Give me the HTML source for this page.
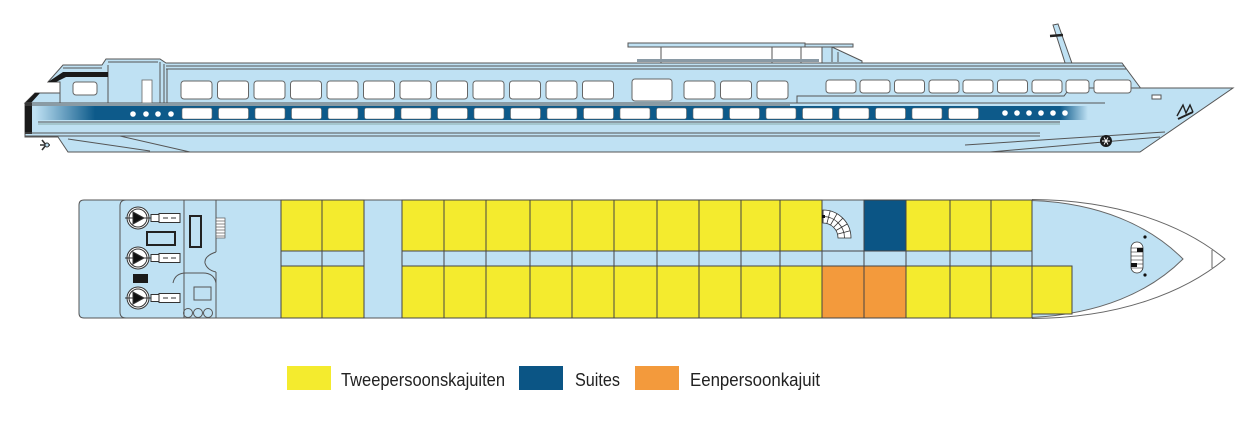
<!DOCTYPE html>
<html><head><meta charset="utf-8"><style>
html,body{margin:0;padding:0;background:#fff;}
svg{display:block;}
</style></head><body>
<svg width="1260" height="428" viewBox="0 0 1260 428" xmlns="http://www.w3.org/2000/svg">
<defs>
<linearGradient id="gl" x1="0" y1="0" x2="1" y2="0"><stop offset="0" stop-color="#bfe1f3"/><stop offset="1" stop-color="#0d5a8a"/></linearGradient>
<linearGradient id="gr" x1="0" y1="0" x2="1" y2="0"><stop offset="0" stop-color="#0d5a8a"/><stop offset="1" stop-color="#bfe1f3"/></linearGradient>
</defs>
<rect width="1260" height="428" fill="#fff"/>

<!-- ============ SIDE VIEW ============ -->
<g stroke="#555" stroke-width="1" fill="#bfe1f3">
<!-- mast -->
<polygon points="1053,25 1058,24 1074,69 1067,69"/>
<line x1="1050" y1="36" x2="1063" y2="35" stroke="#222" stroke-width="2.5"/>
<!-- canopy & wheelhouse -->
<rect x="628" y="43" width="177" height="4"/>
<rect x="805" y="44" width="48" height="3"/>
<polygon points="822,47 832,47 862,61 862,66 822,66"/>
<line x1="832" y1="47" x2="832" y2="62"/>
<line x1="838" y1="52" x2="838" y2="62"/>
<line x1="661" y1="47" x2="661" y2="69"/>
<line x1="772" y1="47" x2="772" y2="69"/>
<line x1="801" y1="47" x2="801" y2="69"/>
<rect x="637" y="59" width="182" height="3" fill="#8a9aa5" stroke="none"/>
<!-- superstructure -->
<path d="M48,82 L63,65 L102,65 L106,59 L160,59 L166,63 L1122,63 L1142,90 L1142,103 L60,103 L60,82 Z"/>
<line x1="166" y1="66" x2="1124" y2="66"/>
<line x1="166" y1="69" x2="1126" y2="69"/>
<line x1="108" y1="62" x2="158" y2="62"/>
<line x1="108" y1="65" x2="108" y2="103"/>
<line x1="160" y1="62" x2="160" y2="103"/>
<line x1="164" y1="64" x2="164" y2="103"/>
<line x1="167" y1="69" x2="167" y2="103"/>
<polygon points="48,82 56,82 66,77 108,77 108,72 63,72" fill="#1a1a1a" stroke="none"/>
<line x1="63" y1="68" x2="102" y2="68"/>
<!-- stern lower deck -->
<polygon points="25,103 35,93 60,93 60,103"/>
<polygon points="25,103 35,93 40,93 31,103" fill="#1a1a1a" stroke="none"/>
<!-- hull -->
<path d="M25,103 L797,103 L797,96 L1064,96 L1070,88 L1233,88 L1140,152 L68,152 L58,137 L25,137 Z"/>
</g>
<rect x="25" y="103" width="7" height="31" fill="#1a1a1a"/>
<!-- hull lines -->
<g stroke="#555" stroke-width="1" fill="none">
<line x1="25" y1="103" x2="1104" y2="103"/>
<line x1="25" y1="105" x2="790" y2="105"/>
<line x1="38" y1="122" x2="1060" y2="122"/>
<line x1="38" y1="124" x2="1060" y2="124" stroke="#8aa"/>
<line x1="25" y1="133" x2="1040" y2="133"/>
<line x1="25" y1="136" x2="1040" y2="136"/>
<line x1="68" y1="139" x2="150" y2="151"/>
<line x1="120" y1="136" x2="190" y2="152"/>
<line x1="965" y1="145" x2="1165" y2="132"/>
<line x1="990" y1="152" x2="1160" y2="137"/>
</g>
<!-- blue band -->
<rect x="35" y="106" width="60" height="14" fill="url(#gl)"/>
<rect x="95" y="106" width="966" height="14" fill="#0d5a8a"/>
<rect x="1060" y="106" width="28" height="14" fill="url(#gr)"/>
<g fill="#fff">
<circle cx="133" cy="114" r="2.8"/><circle cx="146" cy="114" r="2.8"/><circle cx="158" cy="114" r="2.8"/><circle cx="171" cy="114" r="2.8"/>
<circle cx="1005" cy="113" r="2.8"/><circle cx="1017" cy="113" r="2.8"/><circle cx="1029" cy="113" r="2.8"/><circle cx="1041" cy="113" r="2.8"/><circle cx="1053" cy="113" r="2.8"/><circle cx="1065" cy="113" r="2.8"/>
</g>
<g fill="#fff" stroke="#666" stroke-width="0.6">
<rect x="182" y="108" width="30" height="11" rx="2"/><rect x="218.5" y="108" width="30" height="11" rx="2"/><rect x="255" y="108" width="30" height="11" rx="2"/><rect x="291.5" y="108" width="30" height="11" rx="2"/><rect x="328" y="108" width="30" height="11" rx="2"/><rect x="364.5" y="108" width="30" height="11" rx="2"/><rect x="401" y="108" width="30" height="11" rx="2"/><rect x="437.5" y="108" width="30" height="11" rx="2"/><rect x="474" y="108" width="30" height="11" rx="2"/><rect x="510.5" y="108" width="30" height="11" rx="2"/><rect x="547" y="108" width="30" height="11" rx="2"/><rect x="583.5" y="108" width="30" height="11" rx="2"/><rect x="620" y="108" width="30" height="11" rx="2"/><rect x="656.5" y="108" width="30" height="11" rx="2"/><rect x="693" y="108" width="30" height="11" rx="2"/><rect x="729.5" y="108" width="30" height="11" rx="2"/><rect x="766" y="108" width="30" height="11" rx="2"/><rect x="802.5" y="108" width="30" height="11" rx="2"/><rect x="839" y="108" width="30" height="11" rx="2"/><rect x="875.5" y="108" width="30" height="11" rx="2"/><rect x="912" y="108" width="30" height="11" rx="2"/><rect x="948.5" y="108" width="30" height="11" rx="2"/>
</g>
<!-- upper windows -->
<g fill="#fff" stroke="#666" stroke-width="1">
<rect x="73" y="82" width="24" height="13" rx="3"/>
<rect x="142" y="80" width="10" height="23" stroke-width="0.8"/>
<rect x="181" y="81" width="31" height="18" rx="3"/><rect x="217.5" y="81" width="31" height="18" rx="3"/><rect x="254" y="81" width="31" height="18" rx="3"/><rect x="290.5" y="81" width="31" height="18" rx="3"/><rect x="327" y="81" width="31" height="18" rx="3"/><rect x="363.5" y="81" width="31" height="18" rx="3"/><rect x="400" y="81" width="31" height="18" rx="3"/><rect x="436.5" y="81" width="31" height="18" rx="3"/><rect x="473" y="81" width="31" height="18" rx="3"/><rect x="509.5" y="81" width="31" height="18" rx="3"/><rect x="546" y="81" width="31" height="18" rx="3"/><rect x="582.5" y="81" width="31" height="18" rx="3"/>
<rect x="632" y="79" width="40" height="22" rx="3"/>
<rect x="684" y="81" width="31" height="18" rx="3"/><rect x="720.5" y="81" width="31" height="18" rx="3"/><rect x="757" y="81" width="31" height="18" rx="3"/>
<rect x="826" y="80" width="30" height="13" rx="3"/><rect x="860" y="80" width="30" height="13" rx="3"/><rect x="894.5" y="80" width="30" height="13" rx="3"/><rect x="929" y="80" width="30" height="13" rx="3"/><rect x="963" y="80" width="30" height="13" rx="3"/><rect x="997.5" y="80" width="30" height="13" rx="3"/><rect x="1032" y="80" width="30" height="13" rx="3"/><rect x="1066" y="80" width="23" height="13" rx="3"/><rect x="1094" y="80" width="37" height="13" rx="3"/>
</g>
<g stroke="#555" fill="none">
<line x1="1105" y1="103" x2="1104" y2="103"/>
<rect x="1152" y="95" width="9" height="4" fill="#fff"/>
<path d="M1177,116 L1183,105 L1186,113 L1190,105 L1193,112" stroke="#222" stroke-width="1.4"/>
<line x1="1178" y1="119" x2="1193" y2="112" stroke="#222" stroke-width="2"/>
</g>
<circle cx="1106" cy="141" r="6" fill="#1a1a1a"/>
<path d="M1102,141 H1110 M1104,137.5 L1108,144.5 M1108,137.5 L1104,144.5" stroke="#fff" stroke-width="0.9"/>
<path d="M42,140 L46,145 L42,150 M40,145 H50" stroke="#333" stroke-width="1.6" fill="none"/>
<circle cx="47" cy="145" r="2" fill="#bfe1f3" stroke="#333"/>

<!-- ============ DECK PLAN ============ -->
<path d="M1032,199.5 C1120,200 1185,226 1225,259 C1185,292 1120,318 1032,318.5" fill="#fff" stroke="#666" stroke-width="1"/>
<line x1="1212" y1="250" x2="1212" y2="268" stroke="#666"/>
<path d="M1032,200.5 C1100,203 1150,226 1183,259 C1150,292 1100,314 1032,317.5 Z" fill="#bfe1f3" stroke="#666"/>
<path d="M84,200 H1032 V318 H84 Q79,318 79,313 V205 Q79,200 84,200 Z" fill="#bfe1f3" stroke="#555"/>
<path d="M126,200 Q120,200 120,206 V312 Q120,318 126,318" fill="none" stroke="#555"/>
<g stroke="#555" fill="none" stroke-width="1">
<line x1="184" y1="200" x2="184" y2="318"/>
<line x1="216" y1="200" x2="216" y2="252"/>
<path d="M216,252 Q204,256 205,263 Q207,270 216,272"/>
<line x1="216" y1="272" x2="216" y2="318"/>
<path d="M173,283 Q175,273 186,273 L203,273 Q214,273 216,283"/>
<rect x="194" y="287" width="17" height="13"/>
<circle cx="188" cy="313" r="4.5"/><circle cx="198" cy="313" r="4.5"/><circle cx="208" cy="313" r="4.5"/>
<rect x="147" y="232" width="28" height="13" stroke="#222" stroke-width="2"/>
<rect x="190" y="216" width="11" height="31" stroke="#222" stroke-width="2"/>
</g>
<g stroke="#555" stroke-width="0.7">
<rect x="216" y="218" width="9" height="20" fill="#fff"/>
<line x1="216" y1="221" x2="225" y2="221"/><line x1="216" y1="224" x2="225" y2="224"/><line x1="216" y1="227" x2="225" y2="227"/><line x1="216" y1="230" x2="225" y2="230"/><line x1="216" y1="233" x2="225" y2="233"/><line x1="216" y1="236" x2="225" y2="236"/>
</g>
<rect x="133" y="274" width="15" height="9" fill="#1a1a1a"/>
<g id="eng" stroke="#333" stroke-width="1">
<circle cx="138" cy="218" r="11" fill="#fff"/><circle cx="138" cy="218" r="9" fill="none"/>
<line x1="125" y1="218" x2="152" y2="218"/>
<polygon points="133,212 133,224 144,218" fill="#111"/>
<rect x="151" y="214.5" width="8" height="7" fill="#fff"/><rect x="159" y="213.5" width="21" height="9" fill="#fff"/>
<line x1="163" y1="218" x2="168" y2="218"/><line x1="171" y1="218" x2="176" y2="218"/>
</g>
<g stroke="#333" stroke-width="1">
<circle cx="138" cy="258" r="11" fill="#fff"/><circle cx="138" cy="258" r="9" fill="none"/>
<line x1="125" y1="258" x2="152" y2="258"/>
<polygon points="133,252 133,264 144,258" fill="#111"/>
<rect x="151" y="254.5" width="8" height="7" fill="#fff"/><rect x="159" y="253.5" width="21" height="9" fill="#fff"/>
<line x1="163" y1="258" x2="168" y2="258"/><line x1="171" y1="258" x2="176" y2="258"/>
</g>
<g stroke="#333" stroke-width="1">
<circle cx="138" cy="298" r="11" fill="#fff"/><circle cx="138" cy="298" r="9" fill="none"/>
<line x1="125" y1="298" x2="152" y2="298"/>
<polygon points="133,292 133,304 144,298" fill="#111"/>
<rect x="151" y="294.5" width="8" height="7" fill="#fff"/><rect x="159" y="293.5" width="21" height="9" fill="#fff"/>
<line x1="163" y1="298" x2="168" y2="298"/><line x1="171" y1="298" x2="176" y2="298"/>
</g>

<!-- cabins -->
<g stroke="#444" stroke-width="1" fill="#f4eb2e">
<rect x="281" y="200" width="41" height="51"/><rect x="322" y="200" width="42" height="51"/>
<rect x="402" y="200" width="42" height="51"/><rect x="444" y="200" width="42" height="51"/><rect x="486" y="200" width="44" height="51"/><rect x="530" y="200" width="42" height="51"/><rect x="572" y="200" width="42" height="51"/><rect x="614" y="200" width="43" height="51"/><rect x="657" y="200" width="42" height="51"/><rect x="699" y="200" width="42" height="51"/><rect x="741" y="200" width="39" height="51"/><rect x="780" y="200" width="42" height="51"/>
<rect x="864" y="200" width="42" height="51" fill="#0b5585"/>
<rect x="906" y="200" width="44" height="51"/><rect x="950" y="200" width="41" height="51"/><rect x="991" y="200" width="41" height="51"/>
<rect x="281" y="266" width="41" height="52"/><rect x="322" y="266" width="42" height="52"/>
<rect x="402" y="266" width="42" height="52"/><rect x="444" y="266" width="42" height="52"/><rect x="486" y="266" width="44" height="52"/><rect x="530" y="266" width="42" height="52"/><rect x="572" y="266" width="42" height="52"/><rect x="614" y="266" width="43" height="52"/><rect x="657" y="266" width="42" height="52"/><rect x="699" y="266" width="42" height="52"/><rect x="741" y="266" width="39" height="52"/><rect x="780" y="266" width="42" height="52"/>
<rect x="822" y="266" width="42" height="52" fill="#f39a3c"/><rect x="864" y="266" width="42" height="52" fill="#f39a3c"/>
<rect x="906" y="266" width="44" height="52"/><rect x="950" y="266" width="41" height="52"/><rect x="991" y="266" width="41" height="52"/><rect x="1032" y="266" width="40" height="48"/>
</g>
<g stroke="#444" stroke-width="1">
<line x1="281" y1="251" x2="281" y2="266"/><line x1="322" y1="251" x2="322" y2="266"/><line x1="364" y1="200" x2="364" y2="318"/>
<line x1="402" y1="200" x2="402" y2="318"/><line x1="444" y1="251" x2="444" y2="266"/><line x1="486" y1="251" x2="486" y2="266"/><line x1="530" y1="251" x2="530" y2="266"/><line x1="572" y1="251" x2="572" y2="266"/><line x1="614" y1="251" x2="614" y2="266"/><line x1="657" y1="251" x2="657" y2="266"/><line x1="699" y1="251" x2="699" y2="266"/><line x1="741" y1="251" x2="741" y2="266"/><line x1="780" y1="251" x2="780" y2="266"/><line x1="822" y1="200" x2="822" y2="266"/><line x1="864" y1="200" x2="864" y2="266"/><line x1="906" y1="251" x2="906" y2="266"/><line x1="950" y1="251" x2="950" y2="266"/><line x1="991" y1="251" x2="991" y2="266"/><line x1="1032" y1="200" x2="1032" y2="318"/>
<line x1="822" y1="251" x2="864" y2="251"/>
</g>
<!-- spiral stairs -->
<g stroke="#333" stroke-width="0.8" fill="none">
<path d="M823,210 A28,28 0 0 1 851,238 L838,238 A15,15 0 0 0 823,223 Z" fill="#fff"/>
<path d="M823,216.5 A21.5,21.5 0 0 1 844.5,238"/>
<line x1="823" y1="223" x2="823" y2="210"/>
<line x1="826.9" y1="223.5" x2="830.2" y2="210.9"/>
<line x1="830.5" y1="225" x2="837" y2="213.8"/>
<line x1="833.6" y1="227.4" x2="842.8" y2="218.2"/>
<line x1="836" y1="230.5" x2="847.2" y2="224"/>
<line x1="837.5" y1="234.1" x2="850.1" y2="230.8"/>
</g>
<rect x="822" y="215" width="3" height="3" fill="#111"/>
<!-- bow stairs -->
<rect x="1131" y="242" width="12" height="31" rx="6" fill="#fff" stroke="#333" stroke-width="0.8"/>
<g stroke="#333" stroke-width="0.6"><line x1="1131" y1="248" x2="1143" y2="248"/><line x1="1131" y1="252" x2="1143" y2="252"/><line x1="1131" y1="256" x2="1143" y2="256"/><line x1="1131" y1="260" x2="1143" y2="260"/><line x1="1131" y1="264" x2="1143" y2="264"/><line x1="1131" y1="268" x2="1143" y2="268"/></g>
<rect x="1137" y="248" width="6" height="4" fill="#111"/><rect x="1131" y="263" width="6" height="4" fill="#111"/>
<circle cx="1145" cy="237" r="1.6" fill="#111"/><circle cx="1145" cy="275" r="1.6" fill="#111"/>

<!-- legend -->
<rect x="287" y="366" width="44" height="24" fill="#f4eb2e"/>
<rect x="519" y="366" width="44" height="24" fill="#0b5585"/>
<rect x="635" y="366" width="44" height="24" fill="#f39a3c"/>
<g font-family="Liberation Sans, Arial, sans-serif" font-size="18" fill="#222">
<text x="341" y="386" textLength="164" lengthAdjust="spacingAndGlyphs">Tweepersoonskajuiten</text>
<text x="575" y="386" textLength="45" lengthAdjust="spacingAndGlyphs">Suites</text>
<text x="690" y="386" textLength="130" lengthAdjust="spacingAndGlyphs">Eenpersoonkajuit</text>
</g>
</svg>
</body></html>
